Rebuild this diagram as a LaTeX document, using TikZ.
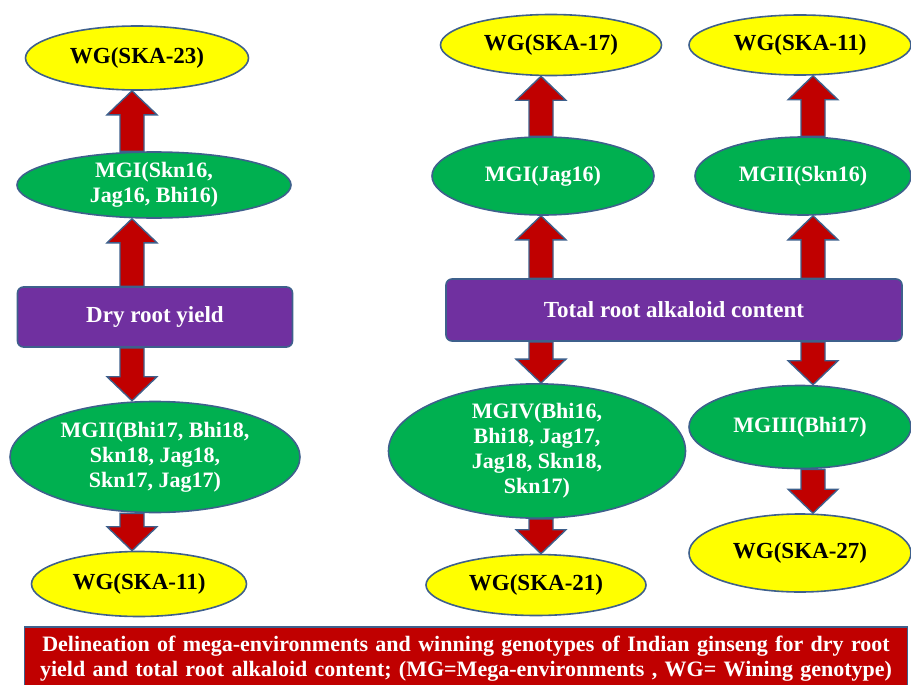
\documentclass[tikz,border=0pt]{standalone}
\usepackage{fontspec}
\setmainfont{Liberation Serif}
\newfontfamily\diagfont{Liberation Serif}
\usetikzlibrary{shapes.geometric,calc,backgrounds}
\definecolor{wgyellow}{RGB}{255,255,0}
\definecolor{megreen}{RGB}{0,176,80}
\definecolor{traitpurple}{RGB}{112,48,160}
\definecolor{arrowred}{RGB}{192,0,0}
\definecolor{edgeblue}{RGB}{62,96,140}

% block arrow from #1 to #2
\newcommand{\blockarrow}[2]{%
  \path (#1) coordinate (ba-s) (#2) coordinate (ba-t);
  \path ($(ba-t)!24pt!(ba-s)$) coordinate (ba-h);
  \draw[bigarrow] ($(ba-s)!12pt!90:(ba-t)$) -- ($(ba-h)!12pt!90:(ba-t)$)
    -- ($(ba-h)!25pt!90:(ba-t)$) -- (ba-t) -- ($(ba-h)!25pt!-90:(ba-t)$)
    -- ($(ba-h)!12pt!-90:(ba-t)$) -- ($(ba-s)!12pt!-90:(ba-t)$) -- cycle;}

\begin{document}
\begin{tikzpicture}[x=1pt, y=-1pt,
  wg/.style={ellipse, draw=edgeblue, line width=1.6pt, fill=wgyellow, inner sep=0pt,
             font=\diagfont\bfseries\fontsize{23}{26}\selectfont},
  mg/.style={ellipse, draw=edgeblue, line width=1.6pt, fill=megreen, inner sep=0pt,
             text=white, align=center, font=\diagfont\bfseries\fontsize{22}{25}\selectfont},
  trait/.style={rectangle, rounded corners=6pt, draw=edgeblue, line width=1.6pt,
                fill=traitpurple, text=white, font=\diagfont\bfseries\fontsize{23}{26}\selectfont},
  bigarrow/.style={draw=edgeblue, line width=1.4pt, fill=arrowred, line join=miter},
]
\useasboundingbox (0,0) rectangle (911,685);

% dry root yield
\node[trait, minimum width=275, minimum height=60] (dry) at (155,317) {Dry root yield};
\node[mg, minimum width=274, minimum height=66] (mgA1) at (154,185) {MGI(Skn16,\\Jag16, Bhi16)};
\node[wg, minimum width=223, minimum height=64] (wgA1) at (137,58) {WG(SKA-23)};
\node[mg, minimum width=290, minimum height=111] (mgA2) at (155,457)
  {MGII(Bhi17, Bhi18,\\Skn18, Jag18,\\Skn17, Jag17)};
\node[wg, minimum width=215, minimum height=65] (wgA2) at (139,584) {WG(SKA-11)};

% total root alkaloid content
\node[trait, minimum width=456, minimum height=62] (alk) at (674,310) {Total root alkaloid content};
\node[mg, minimum width=222, minimum height=78] (mgB1) at (543,176) {MGI(Jag16)};
\node[mg, minimum width=216, minimum height=78] (mgC1) at (803,176) {MGII(Skn16)};
\node[wg, minimum width=221, minimum height=61] (wgB1) at (551,45) {WG(SKA-17)};
\node[wg, minimum width=222, minimum height=60] (wgC1) at (800,45) {WG(SKA-11)};
\node[mg, minimum width=297, minimum height=130] (mgB2) at (537,451)
  {MGIV(Bhi16,\\Bhi18, Jag17,\\Jag18, Skn18,\\Skn17)};
\node[mg, minimum width=222, minimum height=83] (mgC2) at (800,427) {MGIII(Bhi17)};
\node[wg, minimum width=220, minimum height=61] (wgB2) at (536,585) {WG(SKA-21)};
\node[wg, minimum width=222, minimum height=78] (wgC2) at (800,553) {WG(SKA-27)};

% caption
\node[rectangle, draw=edgeblue, line width=1.6pt, fill=arrowred, text=white,
      minimum width=882, minimum height=64, text width=876, align=center,
      font=\diagfont\bfseries\fontsize{22}{25}\selectfont] (cap) at (466,659)
  {Delineation of mega-environments and winning genotypes of Indian ginseng for dry root
   yield and total root alkaloid content; (MG=Mega-environments , WG= Wining genotype)};

\coordinate (colA) at (132,0);
\coordinate (colB) at (541,0);
\coordinate (colC) at (813,0);

\begin{scope}[on background layer]
\blockarrow{dry.north -| colA}{mgA1.south -| colA}
\blockarrow{mgA1.north -| colA}{wgA1.south -| colA}
\blockarrow{dry.south -| colA}{mgA2.north -| colA}
\blockarrow{mgA2.south -| colA}{wgA2.north -| colA}
\blockarrow{alk.north -| colB}{mgB1.south -| colB}
\blockarrow{mgB1.north -| colB}{wgB1.south -| colB}
\blockarrow{alk.north -| colC}{mgC1.south -| colC}
\blockarrow{mgC1.north -| colC}{wgC1.south -| colC}
\blockarrow{alk.south -| colB}{mgB2.north -| colB}
\blockarrow{mgB2.south -| colB}{wgB2.north -| colB}
\blockarrow{alk.south -| colC}{mgC2.north -| colC}
\blockarrow{mgC2.south -| colC}{wgC2.north -| colC}
\end{scope}
\end{tikzpicture}
\end{document}
